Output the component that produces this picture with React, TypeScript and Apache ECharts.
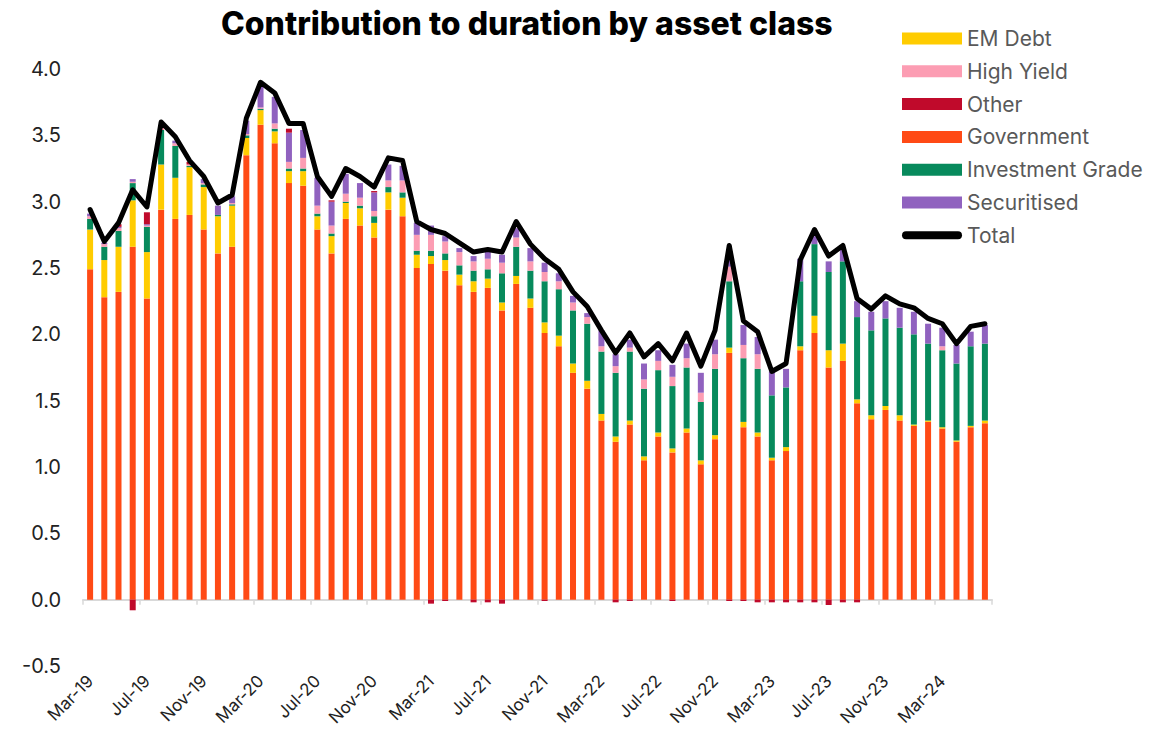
import React, { useEffect, useRef } from "react";
import * as echarts from "echarts";

const categories = [
  "Mar-19","Apr-19","May-19","Jun-19","Jul-19","Aug-19","Sep-19","Oct-19","Nov-19","Dec-19",
  "Jan-20","Feb-20","Mar-20","Apr-20","May-20","Jun-20","Jul-20","Aug-20","Sep-20","Oct-20",
  "Nov-20","Dec-20","Jan-21","Feb-21","Mar-21","Apr-21","May-21","Jun-21","Jul-21","Aug-21",
  "Sep-21","Oct-21","Nov-21","Dec-21","Jan-22","Feb-22","Mar-22","Apr-22","May-22","Jun-22",
  "Jul-22","Aug-22","Sep-22","Oct-22","Nov-22","Dec-22","Jan-23","Feb-23","Mar-23","Apr-23",
  "May-23","Jun-23","Jul-23","Aug-23","Sep-23","Oct-23","Nov-23","Dec-23","Jan-24","Feb-24",
  "Mar-24","Apr-24","May-24","Jun-24",
];

const government = [
  2.49,2.28,2.32,2.66,2.27,2.94,2.87,2.90,2.79,2.61,
  2.66,3.35,3.58,3.44,3.14,3.12,2.79,2.61,2.87,2.82,
  2.73,2.94,2.89,2.50,2.53,2.48,2.37,2.32,2.35,2.18,
  2.38,2.20,2.01,1.91,1.71,1.59,1.35,1.19,1.32,1.05,
  1.23,1.11,1.26,1.02,1.21,1.86,1.30,1.23,1.05,1.12,
  1.88,2.01,1.75,1.80,1.48,1.36,1.43,1.35,1.31,1.34,
  1.29,1.19,1.30,1.33,
];
const emDebt = [
  0.30,0.28,0.34,0.35,0.35,0.34,0.31,0.36,0.32,0.28,
  0.31,0.13,0.11,0.09,0.09,0.11,0.10,0.13,0.12,0.13,
  0.11,0.13,0.14,0.10,0.06,0.08,0.08,0.08,0.07,0.06,
  0.06,0.07,0.08,0.08,0.07,0.06,0.05,0.04,0.03,0.03,
  0.03,0.03,0.03,0.03,0.03,0.04,0.04,0.03,0.02,0.03,
  0.03,0.13,0.13,0.13,0.03,0.03,0.03,0.04,0.01,0.01,
  0.01,0.01,0.01,0.02,
];
const investmentGrade = [
  0.08,0.10,0.12,0.13,0.19,0.26,0.24,0.01,0.02,0.01,
  0.01,0.02,0.01,0.02,0.02,0.02,0.02,0.02,0.01,0.02,
  0.05,0.04,0.04,0.03,0.04,0.05,0.07,0.08,0.07,0.22,
  0.22,0.21,0.31,0.35,0.40,0.43,0.47,0.48,0.52,0.51,
  0.47,0.47,0.46,0.44,0.50,0.50,0.48,0.48,0.47,0.45,
  0.49,0.54,0.59,0.62,0.62,0.64,0.66,0.66,0.68,0.58,
  0.58,0.58,0.60,0.58,
];
const highYield = [
  0.02,0.02,0.02,0.01,0.01,0.02,0.02,0.01,0.01,0.00,
  0.01,0.01,0.01,0.04,0.05,0.08,0.06,0.06,0.06,0.06,
  0.04,0.05,0.09,0.12,0.12,0.09,0.10,0.07,0.08,0.08,
  0.07,0.07,0.07,0.06,0.06,0.05,0.04,0.05,0.03,0.07,
  0.07,0.07,0.07,0.07,0.11,0.11,0.10,0.11,0.00,0.00,
  0.00,0.00,0.00,0.00,0.00,0.00,0.00,0.00,0.00,0.00,
  0.03,0.00,0.00,0.00,
];
const securitised = [
  0.02,0.01,0.01,0.02,0.01,0.02,0.02,0.00,0.03,0.07,
  0.05,0.10,0.16,0.20,0.22,0.21,0.21,0.18,0.15,0.11,
  0.14,0.12,0.11,0.09,0.07,0.04,0.03,0.04,0.08,0.06,
  0.07,0.10,0.07,0.06,0.05,0.03,0.12,0.09,0.06,0.12,
  0.08,0.09,0.11,0.15,0.11,0.10,0.15,0.13,0.18,0.14,
  0.17,0.06,0.08,0.11,0.12,0.14,0.13,0.15,0.17,0.15,
  0.14,0.14,0.11,0.14,
];
const other = [
  0,0,0.02,-0.08,0.09,0,0,0.02,0,0,
  0,0,0,0,0.03,0,0,0.01,0,0,
  0.01,0,0,0,-0.03,-0.01,0,-0.02,-0.02,-0.03,
  0,0,-0.01,0,0,0,0,-0.02,-0.01,0,
  0,-0.01,0,0,0,-0.01,-0.01,-0.02,-0.02,-0.02,
  -0.02,-0.02,-0.04,-0.02,-0.02,0,0,0,0,0,
  0,0,0,0,
];
const total = [
  2.94,2.70,2.84,3.09,2.96,3.60,3.49,3.31,3.19,2.99,
  3.05,3.63,3.90,3.82,3.59,3.59,3.19,3.04,3.25,3.19,
  3.11,3.33,3.31,2.85,2.79,2.76,2.69,2.62,2.64,2.62,
  2.85,2.68,2.57,2.49,2.32,2.21,2.03,1.86,2.01,1.83,
  1.93,1.80,2.01,1.76,2.03,2.67,2.10,2.02,1.72,1.78,
  2.56,2.79,2.59,2.67,2.27,2.19,2.29,2.23,2.20,2.12,
  2.08,1.93,2.06,2.08,
];

const FONT = "Inter, 'Open Sans', sans-serif";

export default function App() {
  const ref = useRef<HTMLDivElement>(null);
  useEffect(() => {
    if (!ref.current) return;
    const chart = echarts.init(ref.current, null, { renderer: "svg" });
    const bar = (name: string, data: number[], color: string) => ({
      name,
      type: "bar",
      stack: "dur",
      data,
      barWidth: 6,
      itemStyle: { color },
      xAxisIndex: 0,
      yAxisIndex: 0,
    });
    chart.setOption({
      animation: false,
      backgroundColor: "#ffffff",
      textStyle: { fontFamily: FONT },
      title: {
        text: "Contribution to duration by asset class",
        left: 216,
        top: 2,
        textStyle: { fontFamily: FONT, fontSize: 32, fontWeight: 800, color: "#000" },
      },
      legend: {
        orient: "vertical",
        left: 897,
        top: 23,
        itemWidth: 60,
        itemHeight: 12,
        itemGap: 11.8,
        textStyle: { fontFamily: FONT, fontSize: 21, color: "#595959", lineHeight: 20 },
        data: [
          { name: "EM Debt", icon: "rect" },
          { name: "High Yield", icon: "rect" },
          { name: "Other", icon: "rect" },
          { name: "Government", icon: "rect" },
          { name: "Investment Grade", icon: "rect" },
          { name: "Securitised", icon: "rect" },
          {
            name: "Total",
            icon: "path://M4,0 H56 A4,4 0 0 1 56,8 H4 A4,4 0 0 1 4,0 Z",
            itemStyle: { color: "#000" },
          },
        ],
      },
      grid: { left: 83, right: 176, top: 69, bottom: 65 },
      xAxis: [
        {
          type: "category",
          data: categories,
          boundaryGap: true,
          axisLine: { onZero: true, lineStyle: { color: "#d9d9d9", width: 2 } },
          axisTick: { show: true, interval: 3, length: 5, lineStyle: { color: "#d9d9d9", width: 1.5 } },
          axisLabel: { show: false },
        },
        {
          type: "category",
          data: categories,
          position: "bottom",
          boundaryGap: true,
          axisLine: { show: false, onZero: false },
          axisTick: { show: false },
          axisLabel: {
            interval: 3,
            rotate: 45,
            margin: 12,
            fontFamily: FONT,
            fontSize: 17,
            color: "#222",
          },
        },
      ],
      yAxis: {
        type: "value",
        min: -0.5,
        max: 4,
        interval: 0.5,
        axisLine: { show: false },
        axisTick: { show: false },
        splitLine: { show: false },
        axisLabel: {
          margin: 22,
          fontFamily: FONT,
          fontSize: 20,
          color: "#222",
          formatter: (v: number) => v.toFixed(1),
        },
      },
      series: [
        bar("Government", government, "#FF4A15"),
        bar("EM Debt", emDebt, "#FFCC00"),
        bar("Investment Grade", investmentGrade, "#078A5C"),
        bar("High Yield", highYield, "#FC9DB3"),
        bar("Securitised", securitised, "#9062BF"),
        bar("Other", other, "#C00A2B"),
        {
          name: "Total",
          type: "line",
          data: total,
          symbol: "none",
          lineStyle: { color: "#000", width: 5, join: "round", cap: "round" },
          itemStyle: { color: "#000" },
          z: 10,
          xAxisIndex: 0,
          yAxisIndex: 0,
        },
      ],
    });
    return () => chart.dispose();
  }, []);
  return (
    <div
      ref={ref}
      style={{ position: "fixed", left: 0, top: 0, width: 1168, height: 731, background: "#fff" }}
    />
  );
}
